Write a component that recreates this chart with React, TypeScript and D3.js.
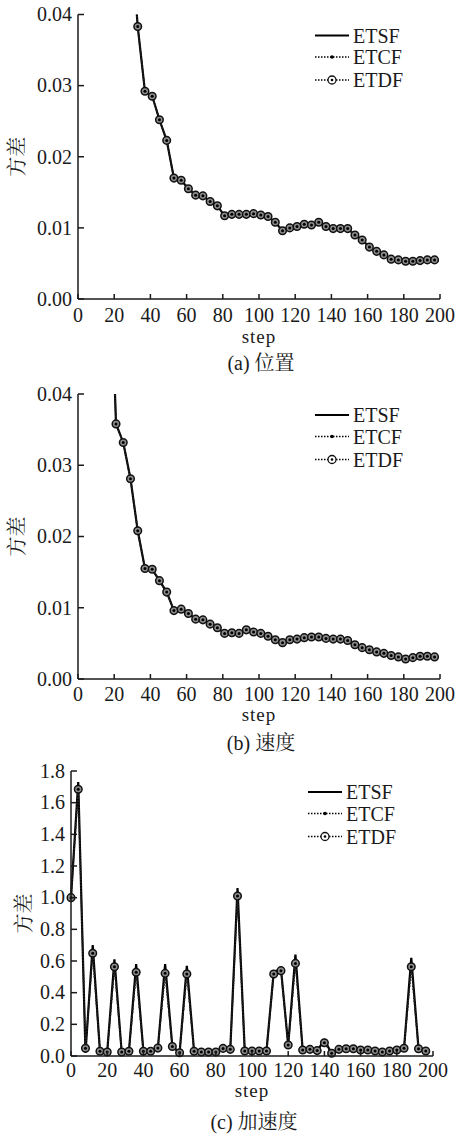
import React from 'react';
import * as d3 from 'd3';

// steps where the filters were sampled
const stepsPos = [29, 33, 37, 41, 45, 49, 53, 57, 61, 65, 69, 73, 77, 81, 85, 89, 93, 97, 101, 105, 109, 113, 117, 121, 125, 129, 133, 137, 141, 145, 149, 153, 157, 161, 165, 169, 173, 177, 181, 185, 189, 193, 197];
const posVar = [0.052, 0.0383, 0.0292, 0.0285, 0.0252, 0.0223, 0.017, 0.0167, 0.0155, 0.0146, 0.0145, 0.0137, 0.0131, 0.0117, 0.0119, 0.0119, 0.0119, 0.012, 0.0118, 0.0116, 0.0108, 0.0096, 0.01, 0.0102, 0.0105, 0.0104, 0.0108, 0.0102, 0.0099, 0.0099, 0.0099, 0.009, 0.0083, 0.0073, 0.0067, 0.0062, 0.0056, 0.0055, 0.0053, 0.0053, 0.0054, 0.0055, 0.0055];

const stepsVel = [17, 21, 25, 29, 33, 37, 41, 45, 49, 53, 57, 61, 65, 69, 73, 77, 81, 85, 89, 93, 97, 101, 105, 109, 113, 117, 121, 125, 129, 133, 137, 141, 145, 149, 153, 157, 161, 165, 169, 173, 177, 181, 185, 189, 193, 197];
const velVar = [0.066, 0.0358, 0.0332, 0.0281, 0.0208, 0.0155, 0.0154, 0.0138, 0.0122, 0.0096, 0.0098, 0.0092, 0.0084, 0.0083, 0.0077, 0.0072, 0.0064, 0.0065, 0.0064, 0.0069, 0.0066, 0.0064, 0.006, 0.0055, 0.0051, 0.0055, 0.0056, 0.0058, 0.0059, 0.0059, 0.0057, 0.0056, 0.0056, 0.0054, 0.0048, 0.0044, 0.0041, 0.0038, 0.0036, 0.0033, 0.0031, 0.0028, 0.003, 0.0032, 0.0032, 0.0031];

const stepsAcc = [0, 4, 8, 12, 16, 20, 24, 28, 32, 36, 40, 44, 48, 52, 56, 60, 64, 68, 72, 76, 80, 84, 88, 92, 96, 100, 104, 108, 112, 116, 120, 124, 128, 132, 136, 140, 144, 148, 152, 156, 160, 164, 168, 172, 176, 180, 184, 188, 192, 196];
const accVar = [1.0, 1.685, 0.049, 0.649, 0.03, 0.025, 0.564, 0.025, 0.03, 0.529, 0.03, 0.03, 0.05, 0.522, 0.06, 0.021, 0.518, 0.03, 0.025, 0.025, 0.025, 0.048, 0.042, 1.01, 0.032, 0.032, 0.032, 0.032, 0.518, 0.539, 0.069, 0.585, 0.038, 0.042, 0.034, 0.084, 0.017, 0.042, 0.046, 0.046, 0.038, 0.038, 0.032, 0.025, 0.032, 0.038, 0.049, 0.564, 0.046, 0.032];
// the ETSF curve peaks a little above the other two
const accVarEtsf = [1.0, 1.73, 0.02, 0.7, 0.03, 0.025, 0.61, 0.025, 0.03, 0.58, 0.03, 0.03, 0.05, 0.58, 0.06, 0.021, 0.57, 0.03, 0.025, 0.025, 0.025, 0.048, 0.042, 1.06, 0.032, 0.032, 0.032, 0.032, 0.53, 0.55, 0.069, 0.64, 0.038, 0.042, 0.034, 0.1, 0.017, 0.042, 0.046, 0.046, 0.038, 0.038, 0.032, 0.025, 0.032, 0.038, 0.049, 0.62, 0.046, 0.032];

const xTicks = [0, 20, 40, 60, 80, 100, 120, 140, 160, 180, 200];
const yTicksSmall = [0, 0.01, 0.02, 0.03, 0.04];
const yTicksAcc = [0, 0.2, 0.4, 0.6, 0.8, 1.0, 1.2, 1.4, 1.6, 1.8];
const legendNames = ['ETSF', 'ETCF', 'ETDF'];
const yLabel = '方差';
const xLabel = 'step';

const SERIF = 'Liberation Serif';
const SONG = 'Noto Serif CJK SC';
const INK = '#1a1a1a';

const panels = [
    { id: 'a', steps: stepsPos, etsf: posVar, etcf: posVar, etdf: posVar, yMax: 0.04, yTicks: yTicksSmall, fmt: '.2f',
      left: 78, right: 440, top: 14.5, bottom: 299, yLabelX: 17, tag: '(a)', caption: '位置', capGap: 71, stepGap: 44, tickGap: 23 },
    { id: 'b', steps: stepsVel, etsf: velVar, etcf: velVar, etdf: velVar, yMax: 0.04, yTicks: yTicksSmall, fmt: '.2f',
      left: 78, right: 440, top: 394, bottom: 679, yLabelX: 17, tag: '(b)', caption: '速度', capGap: 71, stepGap: 42, tickGap: 22 },
    { id: 'c', steps: stepsAcc, etsf: accVarEtsf, etcf: accVar, etdf: accVar, yMax: 1.8, yTicks: yTicksAcc, fmt: '.1f',
      left: 71, right: 433, top: 771, bottom: 1056, yLabelX: 24, tag: '(c)', caption: '加速度', capGap: 73, stepGap: 41, tickGap: 21 },
];

function Panel({ p }) {
    const x = d3.scaleLinear().domain([0, 200]).range([p.left, p.right]);
    const y = d3.scaleLinear().domain([0, p.yMax]).range([p.bottom, p.top]);
    const fmt = d3.format(p.fmt);
    const line = d3.line().x((d) => x(d[0])).y((d) => y(d[1]));
    const pts = (vals) => p.steps.map((s, i) => [s, vals[i]]);
    const visible = (vals) => pts(vals).filter((d) => d[1] <= p.yMax);
    const clipId = 'clip-' + p.id;
    const midX = (p.left + p.right) / 2;
    const lx = p.right - 125;
    const legendY = [21, 42.5, 65.5];

    return (
        <g>
            <clipPath id={clipId}>
                <rect x={p.left - 6} y={p.top} width={p.right - p.left + 12} height={p.bottom - p.top + 6} />
            </clipPath>

            {/* series */}
            <g clipPath={`url(#${clipId})`}>
                <path d={line(pts(p.etsf))} fill="none" stroke="#000" strokeWidth={2.2} />
                <path d={line(pts(p.etcf))} fill="none" stroke="#222" strokeWidth={1.4} strokeDasharray="1.5,1.5" />
                {visible(p.etcf).map((d, i) => (
                    <circle key={'c' + i} cx={x(d[0])} cy={y(d[1])} r={1.6} fill="#000" />
                ))}
                <path d={line(pts(p.etdf))} fill="none" stroke="#222" strokeWidth={1.4} strokeDasharray="1.5,1.5" />
                {visible(p.etdf).map((d, i) => (
                    <g key={'d' + i} transform={`translate(${x(d[0])},${y(d[1])})`}>
                        <circle r={3.8} fill="#8c8c8c" stroke="#111" strokeWidth={1.5} />
                        <circle r={1.5} fill="#000" />
                    </g>
                ))}
            </g>

            {/* axes, ticks point inward */}
            <line x1={p.left} x2={p.right} y1={p.bottom} y2={p.bottom} stroke={INK} strokeWidth={1.5} />
            <line x1={p.left} x2={p.left} y1={p.top} y2={p.bottom} stroke={INK} strokeWidth={1.5} />
            {xTicks.map((t) => (
                <g key={'x' + t}>
                    <line x1={x(t)} x2={x(t)} y1={p.bottom} y2={p.bottom - 5} stroke={INK} strokeWidth={1.5} />
                    <text x={x(t)} y={p.bottom + p.tickGap} textAnchor="middle" fontFamily={SERIF} fontSize={20} fill={INK}>
                        {t}
                    </text>
                </g>
            ))}
            {p.yTicks.map((t) => (
                <g key={'y' + t}>
                    <line x1={p.left} x2={p.left + 6} y1={y(t)} y2={y(t)} stroke={INK} strokeWidth={1.5} />
                    <text x={p.left - 6} y={y(t)} dy="0.34em" textAnchor="end" fontFamily={SERIF} fontSize={20} fill={INK}>
                        {fmt(t)}
                    </text>
                </g>
            ))}

            <text x={midX} y={p.bottom + p.stepGap} textAnchor="middle" fontFamily={SERIF} fontSize={19} letterSpacing={1} fill={INK}>
                {xLabel}
            </text>
            <text x={midX + 2} y={p.bottom + p.capGap} textAnchor="middle" fontSize={20} fill={INK}>
                <tspan fontFamily={SERIF}>{p.tag + ' '}</tspan>
                <tspan fontFamily={SONG}>{p.caption}</tspan>
            </text>
            <text
                transform={`translate(${p.yLabelX + 7},${(p.top + p.bottom) / 2}) rotate(-90)`}
                textAnchor="middle"
                fontFamily={SONG}
                fontSize={20}
                fill={INK}
            >
                {yLabel}
            </text>

            {/* legend */}
            <g transform={`translate(${lx},${p.top})`}>
                {legendNames.map((name, i) => (
                    <g key={name} transform={`translate(0,${legendY[i]})`}>
                        <line x1={0} x2={34} stroke="#000" strokeWidth={i == 0 ? 2 : 1.4} strokeDasharray={i == 0 ? undefined : '1.5,1.5'} />
                        {i == 1 && <circle cx={17} r={1.8} fill="#000" />}
                        {i == 2 && <circle cx={17} r={4} fill="#fff" stroke="#111" strokeWidth={1.3} />}
                        {i == 2 && <circle cx={17} r={1.3} fill="#000" />}
                        <text x={38} dy="0.35em" fontFamily={SERIF} fontSize={20} fill={INK}>
                            {name}
                        </text>
                    </g>
                ))}
            </g>
        </g>
    );
}

export default function App() {
    return (
        <svg width={457} height={1136} style={{ position: 'absolute', left: 0, top: 0, background: '#fff' }}>
            {panels.map((p) => (
                <Panel key={p.id} p={p} />
            ))}
        </svg>
    );
}
